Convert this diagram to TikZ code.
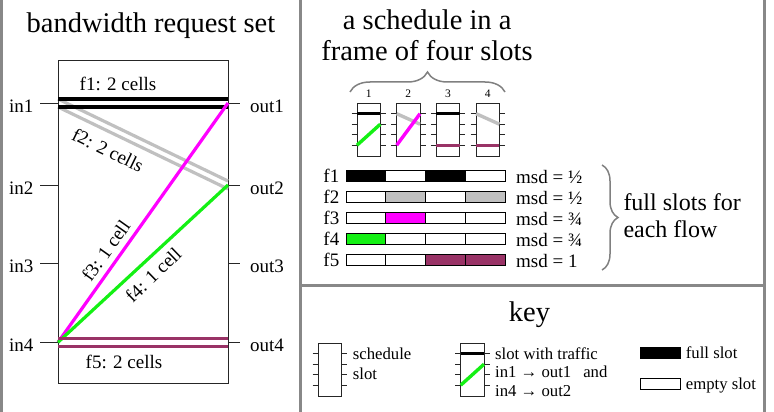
\documentclass[tikz,border=0pt]{standalone}
\usepackage{fontspec}
\setmainfont{Liberation Serif}
\usetikzlibrary{calc,decorations.pathreplacing}
\definecolor{panelgray}{RGB}{136,136,136}
\definecolor{flowgray}{RGB}{192,192,192}
\definecolor{flowpurple}{RGB}{153,51,102}
\definecolor{flowgreen}{RGB}{20,240,20}
\definecolor{flowmagenta}{RGB}{255,0,255}
\definecolor{bracegray}{RGB}{128,128,128}
\tikzset{
  panel/.style={draw=panelgray, line width=3pt},
  boxline/.style={draw=black!85, line width=1pt},
  tickline/.style={draw=black!85, line width=1pt},
  flowline/.style={line width=3.2pt},
  slotline/.style={line width=3.4pt},
  titletext/.style={font=\fontsize{28.5}{32}\selectfont, inner sep=0pt},
  midtext/.style={font=\fontsize{19}{22}\selectfont, inner sep=0pt},
  bigtext/.style={font=\fontsize{24}{28}\selectfont, inner sep=0pt},
  keytext/.style={font=\fontsize{16.7}{19}\selectfont, inner sep=0pt},
  numtext/.style={font=\fontsize{11.5}{13}\selectfont, inner sep=0pt},
  bracestyle/.style={draw=bracegray, line width=1.5pt, decorate},
  cellbox/.style={draw=black, line width=0.9pt},
  schedslot/.pic={
    \draw[boxline] (0,0) rectangle (23.3,53);
    \foreach \t in {10.7,21.2,31.7,42.2} {
      \draw[tickline] (-5.5,\t) -- (0,\t);
      \draw[tickline] (23.3,\t) -- (28.8,\t);
    }
  }
}
\begin{document}
\begin{tikzpicture}[x=1pt,y=-1pt]
\useasboundingbox (0,0) rectangle (774,412);

% panel borders
\draw[panel] (1.3,0) -- (1.3,412);
\draw[panel] (300.5,0) -- (300.5,412);
\draw[panel] (764.5,0) -- (764.5,412);
\draw[panel] (300.5,285.5) -- (764.5,285.5);

% ---------------- left panel: bandwidth request set
\node[titletext, anchor=base] (titleL) at (151,32.7) {bandwidth request set};
\draw[boxline] (58,61) rectangle (228,383);

\foreach \i/\y in {1/103,2/185,3/263,4/342.3} {
  \coordinate (in\i) at (58,\y);
  \coordinate (out\i) at (228,\y);
  \draw[tickline] (in\i) -- ++(-18,0);
  \draw[tickline] (out\i) -- ++(11.5,0);
  \node[midtext, anchor=base east] (lin\i) at (33.5,\y+9) {in\i};
  \node[midtext, anchor=base west] (lout\i) at (250,\y+9) {out\i};
}

% f2 (gray, in1 -> out2)
\draw[flowline, flowgray] ($(in1)+(0,-4)$) -- ($(out2)+(0,-4)$);
\draw[flowline, flowgray] ($(in1)+(0,4)$) -- ($(out2)+(0,4)$);
% f1 (black, in1 -> out1)
\draw[flowline, black] ($(in1)+(0,-4)$) -- ($(out1)+(0,-4)$);
\draw[flowline, black] ($(in1)+(0,4)$) -- ($(out1)+(0,4)$);
% f3 (magenta, in4 -> out1)
\draw[flowline, flowmagenta] (in4) -- (out1);
% f4 (green, in4 -> out2)
\draw[flowline, flowgreen] (in4) -- (out2);
% f5 (purple, in4 -> out4)
\draw[flowline, flowpurple] ($(in4)+(0,-3.8)$) -- ($(out4)+(0,-3.8)$);
\draw[flowline, flowpurple] ($(in4)+(0,3.8)$) -- ($(out4)+(0,3.8)$);

\node[midtext, anchor=base] (lf1) at (118,90) {f1: 2 cells};
\node[midtext, rotate=-26] (lf2) at (108,150) {f2: 2 cells};
\node[midtext, rotate=54.6] (lf3) at (105.8,250.8) {f3: 1 cell};
\node[midtext, rotate=44] (lf4) at (153.3,275) {f4: 1 cell};
\node[midtext, anchor=base] (lf5) at (124,368.3) {f5: 2 cells};

% ---------------- right top panel: schedule
\node[titletext, anchor=base] (titleS1) at (427.2,29.3) {a schedule in a};
\node[titletext, anchor=base] (titleS2) at (427,60) {frame of four slots};

\draw[bracestyle, decoration={brace, amplitude=20pt}] (350,92) -- (505,92);

\foreach \k/\x in {1/357,2/396.7,3/436.4,4/476.1} {
  \node[numtext, anchor=base] (num\k) at (\x+11.65,98) {\k};
  \pic at (\x,103) {schedslot};
}
% slot 1
\draw[slotline, black] (357,113.7) -- (380.3,113.7);
\draw[slotline, flowgreen] (357,145.2) -- (380.3,124.2);
% slot 2
\draw[slotline, flowgray] (396.7,113.7) -- (420,124.2);
\draw[slotline, flowmagenta] (396.7,145.2) -- (420,113.7);
% slot 3
\draw[slotline, black] (436.4,113.7) -- (459.7,113.7);
\draw[slotline, flowpurple] (436.4,145.2) -- (459.7,145.2);
% slot 4
\draw[slotline, flowgray] (476.1,113.7) -- (499.4,124.2);
\draw[slotline, flowpurple] (476.1,145.2) -- (499.4,145.2);

% flow bars
\foreach \r/\a/\b/\c/\d/\m in {1/black/white/black/white/½,2/white/flowgray/white/flowgray/½,3/white/flowmagenta/white/white/¾,4/flowgreen/white/white/white/¾,5/white/white/flowpurple/flowpurple/1} {
  \pgfmathsetmacro{\ty}{170+21*(\r-1)}
  \draw[cellbox, fill=\a] (346,\ty) rectangle (385.75,\ty+11);
  \draw[cellbox, fill=\b] (385.75,\ty) rectangle (425.5,\ty+11);
  \draw[cellbox, fill=\c] (425.5,\ty) rectangle (465.25,\ty+11);
  \draw[cellbox, fill=\d] (465.25,\ty) rectangle (505,\ty+11);
  \node[midtext, anchor=base east] (fl\r) at (339.5,\ty+12) {f\r};
  \node[midtext, anchor=base west] (msd\r) at (516,\ty+13.5) {msd = \m};
}

\draw[bracestyle, decoration={brace, amplitude=16pt}] (602,165) -- (602,270);
\node[bigtext, anchor=base west] (full1) at (623.3,210) {full slots for};
\node[bigtext, anchor=base west] (full2) at (623.3,237.7) {each flow};

% ---------------- key panel
\node[titletext, anchor=base] (keytitle) at (529.5,321) {key};

\pic at (318,343) {schedslot};
\node[keytext, anchor=base west] (kschedule) at (352.7,359) {schedule};
\node[keytext, anchor=base west] (kslot) at (352.7,379) {slot};

\pic at (460.7,343) {schedslot};
\draw[slotline, black] (460.7,353.7) -- (484,353.7);
\draw[slotline, flowgreen] (460.7,385.2) -- (484,364.2);
\node[keytext, anchor=base west] (ktraffic) at (495,359) {slot with traffic};
\node[keytext, anchor=base west] (kin1) at (495,377.7) {in1 → out1\hspace{12pt}and};
\node[keytext, anchor=base west] (kin4) at (495,396.7) {in4 → out2};

\draw[cellbox, fill=black] (640,347.5) rectangle (680,358.5);
\node[keytext, anchor=base west] (kfull) at (685.7,358.3) {full slot};
\draw[cellbox, fill=white] (640,378.5) rectangle (680,389.5);
\node[keytext, anchor=base west] (kempty) at (685.7,389) {empty slot};

\end{tikzpicture}
\end{document}
